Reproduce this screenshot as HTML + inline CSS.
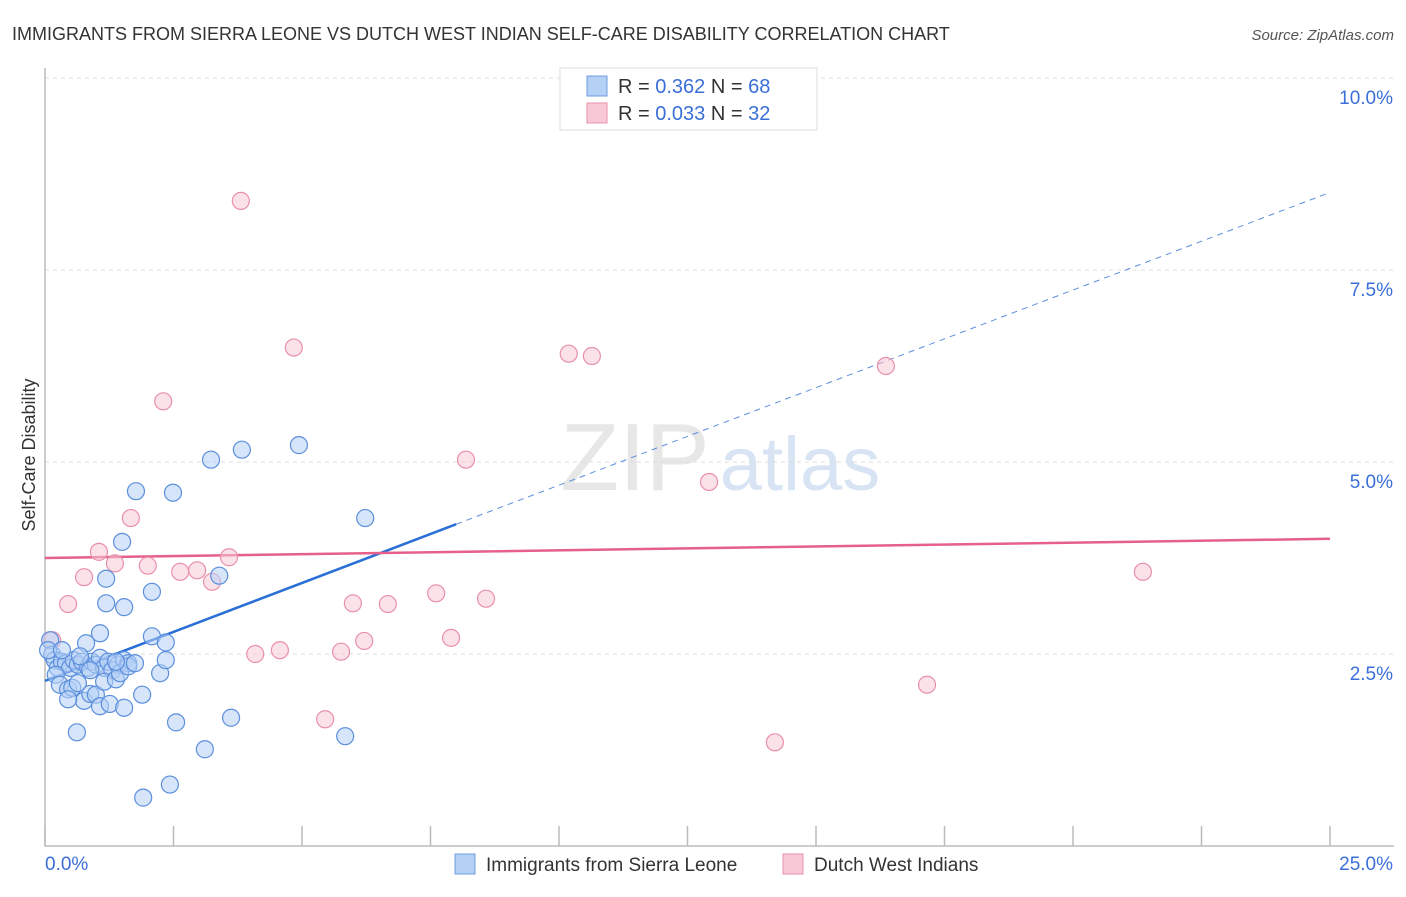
<!DOCTYPE html>
<html><head><meta charset="utf-8"><style>
body{margin:0;background:#fff;font-family:"Liberation Sans",sans-serif}
svg text{font-family:"Liberation Sans",sans-serif}
</style></head><body>
<svg id="chart" width="1406" height="892">
<text x="12" y="40" font-size="18" fill="#333">IMMIGRANTS FROM SIERRA LEONE VS DUTCH WEST INDIAN SELF-CARE DISABILITY CORRELATION CHART</text>
<text x="1394" y="40" font-size="15" fill="#555" font-style="italic" text-anchor="end">Source: ZipAtlas.com</text>
<text x="35" y="455" font-size="18" fill="#333" text-anchor="middle" transform="rotate(-90 35 455)">Self-Care Disability</text>
<g><text x="635" y="490" font-size="96" fill="#ddd" font-family="Liberation Serif" text-anchor="middle" opacity="0.7">ZIP</text><text x="800" y="490" font-size="76" fill="#c8daf0" text-anchor="middle" opacity="0.7">atlas</text></g>
<g id="grid"></g><g id="axes"></g><g id="trends"></g><g id="points"></g>
<g>
<rect x="560" y="68" width="257" height="62" fill="#fff" stroke="#ddd"/>
<rect x="587" y="76" width="20" height="20" fill="#b5d0f5" stroke="#6e9de0"/>
<text x="618" y="93" font-size="20" fill="#333">R = <tspan fill="#3a6fd8">0.362</tspan>   N = <tspan fill="#3a6fd8">68</tspan></text>
<rect x="587" y="103" width="20" height="20" fill="#f8c8d6" stroke="#e890aa"/>
<text x="618" y="120" font-size="20" fill="#333">R = <tspan fill="#3a6fd8">0.033</tspan>   N = <tspan fill="#3a6fd8">32</tspan></text>
</g>
<g>
<rect x="455" y="854" width="20" height="20" fill="#b5d0f5" stroke="#6e9de0"/>
<text x="486" y="871" font-size="19" fill="#333">Immigrants from Sierra Leone</text>
<rect x="783" y="854" width="20" height="20" fill="#f8c8d6" stroke="#e890aa"/>
<text x="814" y="871" font-size="19" fill="#333">Dutch West Indians</text>
</g>
</svg>
<script>
const xTicks=[0,2.5,5,7.5,10,12.5,15,17.5,20,22.5,25];
const yTicks=[2.5,5,7.5,10];
const yTickLabels=["2.5%","5.0%","7.5%","10.0%"];
const xEndLabels=["0.0%","25.0%"];
const blueX=[0.10,0.14,0.19,0.25,0.33,0.41,0.49,0.56,0.64,0.72,0.84,0.91,0.99,1.07,1.15,1.23,1.31,1.42,1.54,1.62,0.21,0.29,0.45,0.53,0.64,0.76,0.88,0.99,1.07,1.15,1.26,1.38,1.46,1.54,1.89,2.24,2.35,2.08,2.35,1.07,0.80,1.19,1.54,2.08,1.19,1.50,1.77,2.49,3.23,3.83,4.94,6.23,3.39,2.55,3.62,3.11,5.84,1.91,2.43,0.62,0.45,1.62,1.38,0.06,0.33,0.88,0.68,1.75];
const blueY=[2.68,2.49,2.42,2.32,2.40,2.38,2.32,2.42,2.36,2.40,2.32,2.40,2.36,2.45,2.32,2.40,2.29,2.36,2.42,2.38,2.23,2.10,2.04,2.06,2.12,1.89,1.98,1.97,1.82,2.14,1.85,2.17,2.25,1.80,1.97,2.25,2.42,2.73,2.65,2.77,2.64,3.16,3.11,3.31,3.48,3.96,4.62,4.60,5.03,5.16,5.22,4.27,3.52,1.61,1.67,1.26,1.43,0.63,0.80,1.48,1.91,2.34,2.40,2.55,2.55,2.29,2.47,2.38];
const pinkX=[3.81,4.84,10.19,10.64,16.36,2.30,8.19,12.92,1.67,1.05,0.76,1.36,2.00,2.63,2.96,3.25,3.58,0.45,5.99,6.67,7.61,8.58,21.36,4.09,4.57,5.76,6.21,7.90,17.16,5.45,14.20,0.14];
const pinkY=[8.40,6.49,6.41,6.38,6.25,5.79,5.03,4.74,4.27,3.83,3.50,3.68,3.65,3.57,3.59,3.44,3.76,3.15,3.16,3.15,3.29,3.22,3.57,2.50,2.55,2.53,2.67,2.71,2.10,1.65,1.35,2.68];
const blueTrend=[[0,2.15],[8.0,4.19],[25,8.51]];
const pinkTrend=[[0,3.75],[25,4.0]];
const X0=45,X1=1330,Y0=846,PX=(X1-X0)/25,PY=76.8;
const sx=v=>X0+v*PX, sy=v=>Y0-v*PY;
const NS="http://www.w3.org/2000/svg";
function mk(p,t,a){const e=document.createElementNS(NS,t);for(const k in a)e.setAttribute(k,a[k]);document.getElementById(p).appendChild(e);return e;}
yTicks.forEach((v,i)=>{
 const l=mk('grid','line',{x1:X0,x2:1394,y1:sy(v),y2:sy(v),stroke:'#ddd','stroke-dasharray':'4,4'});
 
 
 const t=mk('grid','text',{x:1393,y:sy(v)+26,'font-size':19,fill:'#3a6fd8','text-anchor':'end'});
 t.textContent=yTickLabels[i];
 
 
});
const ax=mk('axes','path',{d:`M${X0} 68 V${Y0} H1394`,stroke:'#bbb',fill:'none','stroke-width':1.5});


xTicks.forEach(v=>{
 const l=mk('axes','line',{x1:sx(v),x2:sx(v),y1:826,y2:Y0,stroke:'#bbb','stroke-width':1.5});
 
 
});
const tl=mk('axes','text',{x:45,y:870,'font-size':19,fill:'#3a6fd8'});tl.textContent=xEndLabels[0];


const tr=mk('axes','text',{x:1393,y:870,'font-size':19,fill:'#3a6fd8','text-anchor':'end'});tr.textContent=xEndLabels[1];


function pt(px,py,fill,stroke,name){
 for(let i=0;i<px.length;i++){
  const c=mk('points','circle',{cx:sx(px[i]),cy:sy(py[i]),r:8.5,fill,stroke,'fill-opacity':0.55,'stroke-width':1.2});
  
  
 }
}
pt(pinkX,pinkY,'#f8c8d6','#e890aa','point-dutch-west-indians');
pt(blueX,blueY,'#b5d0f5','#5b8fdc','point-sierra-leone');
const b1=mk('trends','line',{x1:sx(blueTrend[0][0]),y1:sy(blueTrend[0][1]),x2:sx(blueTrend[1][0]),y2:sy(blueTrend[1][1]),stroke:'#2a6fd6','stroke-width':2.5});


const b2=mk('trends','line',{x1:sx(blueTrend[1][0]),y1:sy(blueTrend[1][1]),x2:sx(blueTrend[2][0]),y2:sy(blueTrend[2][1]),stroke:'#5b8fdc','stroke-width':1,'stroke-dasharray':'6,5'});


const p1=mk('trends','line',{x1:sx(pinkTrend[0][0]),y1:sy(pinkTrend[0][1]),x2:sx(pinkTrend[1][0]),y2:sy(pinkTrend[1][1]),stroke:'#e6608a','stroke-width':2.5});


</script>
</body></html>
